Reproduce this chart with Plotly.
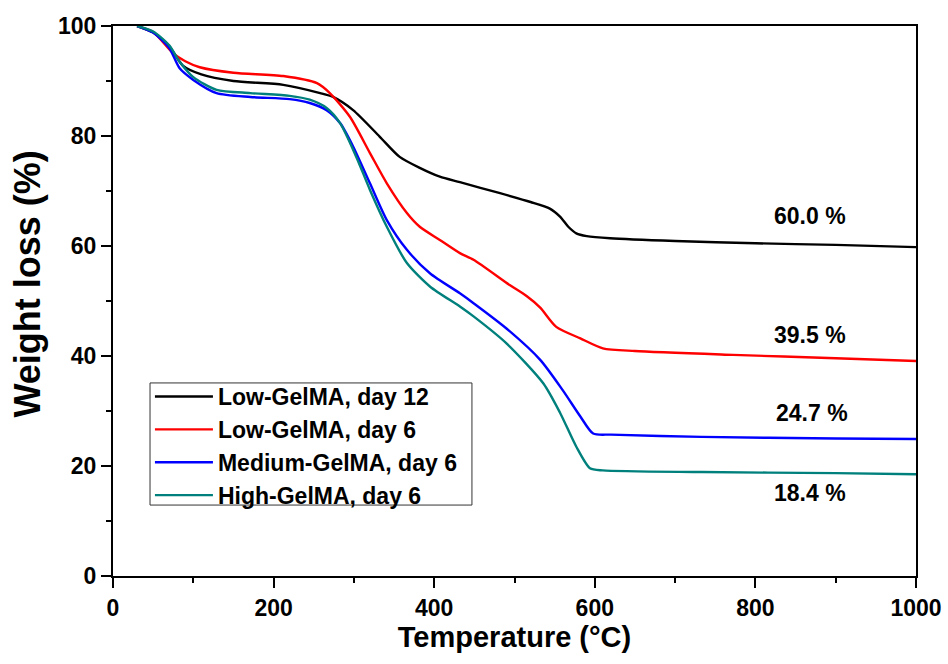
import plotly.graph_objects as go

names = ["Low-GelMA, day 12", "Low-GelMA, day 6", "Medium-GelMA, day 6", "High-GelMA, day 6"]
colors = ["#000000", "#ff0000", "#0000ff", "#00807c"]

t_low12 = [30, 50, 70, 87, 110, 150, 212, 258, 274, 299, 332, 357, 382, 407, 432, 482, 520, 544, 557, 567, 577, 590, 619, 700, 800, 900, 1000]
w_low12 = [100, 98.8, 96.3, 92.8, 91.2, 90.0, 89.3, 87.8, 87.1, 84.7, 79.9, 76.2, 74.2, 72.6, 71.6, 69.6, 68.0, 66.8, 65.3, 63.5, 62.3, 61.8, 61.4, 60.9, 60.5, 60.2, 59.8]

t_low6 = [30, 50, 75, 90, 108, 150, 212, 254, 270, 295, 320, 341, 366, 382, 407, 432, 449, 494, 515, 532, 552, 582, 610, 650, 772, 900, 1000]
w_low6 = [100, 98.9, 95, 93.6, 92.5, 91.5, 90.9, 89.6, 87.8, 83.5, 76.9, 71.4, 66, 63.5, 61.1, 58.7, 57.5, 52.9, 50.9, 48.8, 45.3, 43.2, 41.4, 40.9, 40.2, 39.6, 39.1]

t_med6 = [30, 50, 70, 83, 100, 129, 171, 220, 245, 266, 283, 299, 320, 341, 366, 395, 432, 449, 490, 532, 560, 582, 598, 620, 733, 900, 1000]
w_med6 = [100, 98.8, 96, 92.3, 90.2, 87.8, 87.1, 86.7, 86.0, 84.7, 82.3, 78.1, 71.4, 64.7, 59.3, 55, 51.4, 49.6, 45, 39.3, 33.8, 29, 25.9, 25.7, 25.3, 25.0, 24.9]

t_high6 = [30, 50, 70, 83, 100, 129, 171, 220, 245, 266, 283, 303, 320, 341, 366, 395, 432, 449, 490, 536, 557, 577, 594, 610, 733, 900, 1000]
w_high6 = [100, 99.0, 96.5, 93.5, 90.7, 88.4, 87.8, 87.3, 86.6, 85.1, 82.3, 76.2, 70.2, 63.5, 56.9, 52.6, 49, 47.2, 42.3, 35, 29.6, 23.5, 19.6, 19.2, 18.9, 18.7, 18.5]

x_ticks = [0, 200, 400, 600, 800, 1000]
y_ticks = [0, 20, 40, 60, 80, 100]

labels = ["60.0 %", "39.5 %", "24.7 %", "18.4 %"]
label_x = [868, 868, 870, 868]
label_y = [65.4, 43.8, 29.6, 15.1]

series = [(t_low12, w_low12), (t_low6, w_low6), (t_med6, w_med6), (t_high6, w_high6)]
FONT = "Liberation Sans, Arial"

fig = go.Figure()
for (t, w), n, c in zip(series, names, colors):
    fig.add_trace(go.Scatter(x=t, y=w, mode="lines", name="<b>" + n + "</b>",
                             line=dict(color=c, width=2.4, shape="spline", smoothing=0.7)))

for lx, ly, lt in zip(label_x, label_y, labels):
    fig.add_annotation(x=lx, y=ly, text="<b>" + lt + "</b>", showarrow=False,
                       font=dict(family=FONT, size=23, color="black"))

fig.add_annotation(xref="paper", yref="paper", x=-0.107, y=0.53, xanchor="center", yanchor="middle",
                   text="<b>Weight loss (%)</b>", textangle=-90, showarrow=False,
                   font=dict(family=FONT, size=36, color="black"))

# legend frame
fig.add_shape(type="rect", xref="paper", yref="paper", x0=0.0461, x1=0.447, y0=0.129, y1=0.351,
              line=dict(color="#333333", width=1), fillcolor="rgba(0,0,0,0)", layer="above")

axis_common = dict(
    showline=True, linecolor="black", linewidth=2, mirror=True,
    ticks="outside", ticklen=10, tickwidth=2, tickcolor="black",
    showgrid=False, zeroline=False, automargin=False,
    tickfont=dict(family=FONT, size=23, color="black"),
)

fig.update_xaxes(range=[0, 1000], tickvals=x_ticks, ticktext=["<b>%d</b>" % v for v in x_ticks],
                 minor=dict(ticks="outside", tickvals=[100, 300, 500, 700, 900], ticklen=5, tickwidth=2, tickcolor="black"),
                 title=dict(text="<b>Temperature (°C)</b>", standoff=6,
                            font=dict(family=FONT, size=29, color="black")),
                 **axis_common)
fig.update_yaxes(range=[0, 100], tickvals=y_ticks, ticktext=["<b>%d</b>" % v for v in y_ticks],
                 minor=dict(ticks="outside", tickvals=[10, 30, 50, 70, 90], ticklen=5, tickwidth=2, tickcolor="black"),
                 **axis_common)

fig.update_layout(
    width=948, height=664,
    margin=dict(l=113, r=32, t=26, b=88),
    paper_bgcolor="white", plot_bgcolor="white",
    legend=dict(x=0.046, y=0.3655, xanchor="left", yanchor="top",
                borderwidth=0, bgcolor="rgba(0,0,0,0)",
                font=dict(family=FONT, size=23, color="black"),
                tracegroupgap=0, itemwidth=58),
    showlegend=True,
)

fig.write_html("out.html")
